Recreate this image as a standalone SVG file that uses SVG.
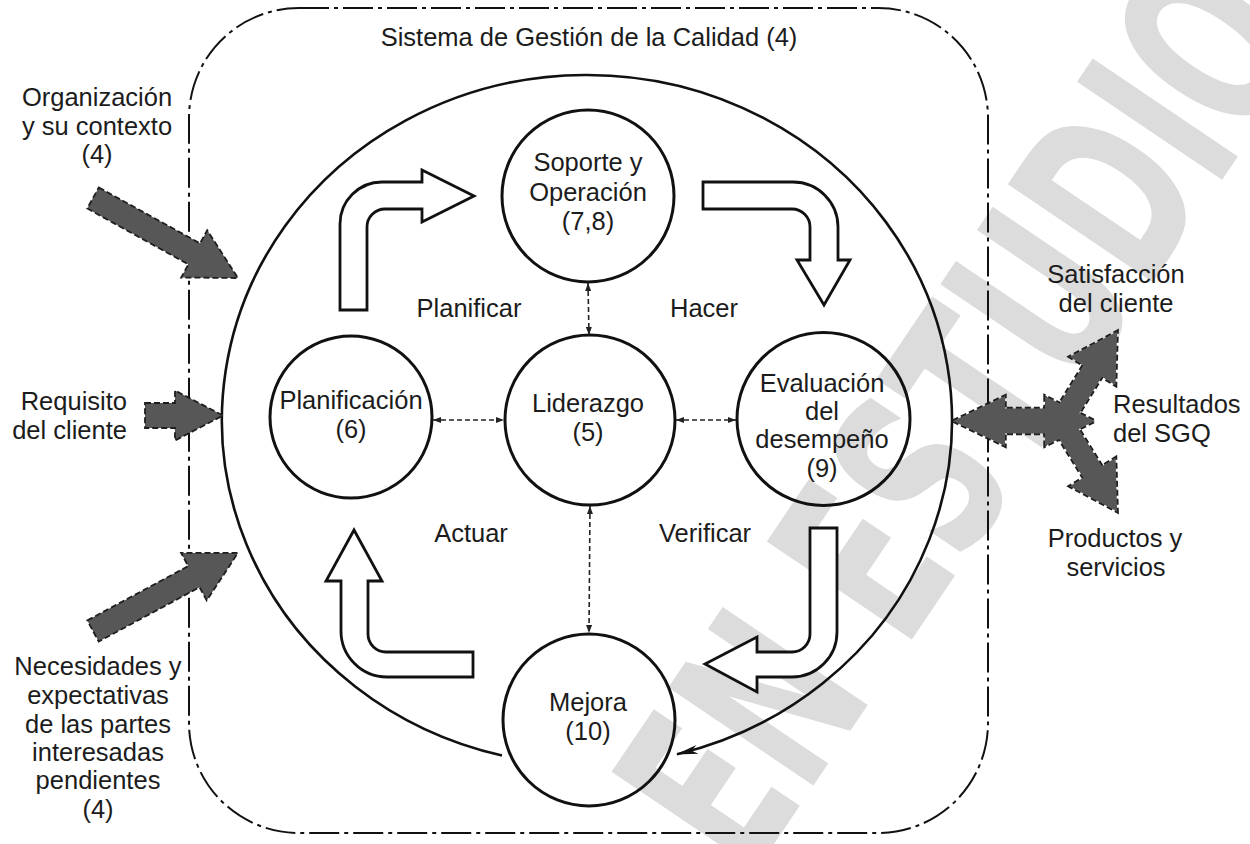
<svg xmlns="http://www.w3.org/2000/svg" width="1250" height="844" viewBox="0 0 1250 844">
  <style>
    text { font-family: "Liberation Sans", Arial, sans-serif; font-size: 25.5px; fill: #1c1c1c; }
    .c { text-anchor: middle; }
    .e { text-anchor: end; }
    .node { fill: none; stroke: #111; stroke-width: 3; }
    .flow { fill: #fff; stroke: #111; stroke-width: 2.8; stroke-linejoin: miter; }
    .link { fill: none; stroke: #222; stroke-width: 1.6; stroke-dasharray: 5 3; marker-start: url(#tip); marker-end: url(#tip); }
    .heavy { fill: #575757; stroke: #1e1e1e; stroke-width: 1.8; stroke-dasharray: 6 3; }
    .heavy-line { fill: none; stroke: #1e1e1e; stroke-width: 3.4; stroke-dasharray: 6 3; }
    .heavy-fill { fill: #575757; stroke: none; }
  </style>
  <defs>
    <marker id="tip" viewBox="0 0 8 6" refX="8" refY="3" markerWidth="8" markerHeight="6" markerUnits="userSpaceOnUse" orient="auto-start-reverse">
      <path d="M0,0 L8,3 L0,6 z" fill="#222"/>
    </marker>
    <marker id="cycle-head" viewBox="0 0 22 9" refX="21" refY="4.5" markerWidth="22" markerHeight="9" markerUnits="userSpaceOnUse" orient="auto">
      <path d="M0,0 L22,4.5 L0,9 L6,4.5 z" fill="#111"/>
    </marker>
    <!-- block arrows for the outputs on the right -->
    <polygon id="out-double" points="953,421 1005,396 1005,408.5 1045,408.5 1045,396 1095,421 1045,446 1045,433.5 1005,433.5 1005,446"/>
    <polygon id="out-up" transform="translate(1061,422) rotate(-58.2)" points="0,-11 60,-11 60,-27 106.5,0 60,27 60,11 0,11"/>
    <polygon id="out-down" transform="translate(1061,421) rotate(58.2)" points="0,-11 60,-11 60,-27 106.5,0 60,27 60,11 0,11"/>
  </defs>

  <rect width="1250" height="844" fill="#fff"/>

  <!-- diagonal stamp behind the drawing -->
  <text id="watermark" transform="translate(749,881) rotate(-56)" style="font-family:'DejaVu Sans',sans-serif;font-weight:bold;font-size:240px;fill:#dcdcdc" textLength="1014" lengthAdjust="spacingAndGlyphs">EN ESTUDIO</text>

  <!-- system boundary -->
  <g id="qms-boundary">
    <rect x="189" y="8" width="799" height="825" rx="110" ry="110" fill="none" stroke="#111" stroke-width="2" stroke-dasharray="30 5 4 5"/>
    <text class="c" x="589" y="46">Sistema de Gestión de la Calidad (4)</text>
  </g>

  <!-- PDCA cycle ring -->
  <g id="cycle-ring">
    <path d="M502,755.5 A365,345 0 1 1 677,754.3" fill="none" stroke="#111" stroke-width="2.6" marker-end="url(#cycle-head)"/>
  </g>

  <!-- hollow flow arrows -->
  <g id="flow-arrows">
    <path class="flow" d="M340,310 L340,224 A42,42 0 0 1 382,182 L422,182 L422,170 L474,196 L422,222 L422,209 L385,209 A18,18 0 0 0 367,227 L367,310 Z"/>
    <path class="flow" d="M703,182 L793,182 A45,45 0 0 1 838,227 L838,260 L850,260 L824,305 L797,260 L810,260 L810,227 A18,18 0 0 0 792,209 L703,209 Z"/>
    <path class="flow" d="M837,528 L837,632 A45,45 0 0 1 792,677 L757,677 L757,692 L705,664 L757,637 L757,652 L792,652 A18,18 0 0 0 810,634 L810,528 Z"/>
    <path class="flow" d="M473,652 L473,677 L387,677 A46,46 0 0 1 341,631 L341,581 L326,581 L354,530 L382,581 L368,581 L368,634 A18,18 0 0 0 386,652 Z"/>
  </g>

  <!-- nodes -->
  <g id="node-soporte">
    <circle class="node" cx="588" cy="196" r="86"/>
    <text class="c" x="588" y="171">Soporte y</text>
    <text class="c" x="588" y="201">Operación</text>
    <text class="c" x="588" y="230">(7,8)</text>
  </g>
  <g id="node-liderazgo">
    <circle class="node" cx="590" cy="420" r="85"/>
    <text class="c" x="588" y="412">Liderazgo</text>
    <text class="c" x="588" y="441">(5)</text>
  </g>
  <g id="node-planificacion">
    <circle class="node" cx="351" cy="417" r="81"/>
    <text class="c" x="351" y="409">Planificación</text>
    <text class="c" x="351" y="438">(6)</text>
  </g>
  <g id="node-evaluacion">
    <circle class="node" cx="823.5" cy="419" r="86.5"/>
    <text class="c" x="822" y="392">Evaluación</text>
    <text class="c" x="822" y="420">del</text>
    <text class="c" x="822" y="448">desempeño</text>
    <text class="c" x="822" y="477">(9)</text>
  </g>
  <g id="node-mejora">
    <circle class="node" cx="589" cy="720" r="86"/>
    <text class="c" x="588" y="711">Mejora</text>
    <text class="c" x="588" y="740">(10)</text>
  </g>

  <!-- leadership links -->
  <g id="connectors">
    <line class="link" x1="588" y1="283" x2="589" y2="335"/>
    <line class="link" x1="433" y1="420" x2="504" y2="420"/>
    <line class="link" x1="676" y1="420" x2="736" y2="420"/>
    <line class="link" x1="590" y1="506" x2="589" y2="633"/>
  </g>

  <!-- phase labels -->
  <g id="phase-labels">
    <text class="c" x="469" y="317">Planificar</text>
    <text class="c" x="704" y="317">Hacer</text>
    <text class="c" x="471" y="542">Actuar</text>
    <text class="c" x="705" y="542">Verificar</text>
  </g>

  <!-- inputs -->
  <g id="input-contexto">
    <polygon class="heavy" transform="translate(93,198) rotate(28.9)" points="0,-12 115.6,-12 115.6,-27 165.6,0 115.6,27 115.6,12 0,12"/>
    <text class="c" x="97" y="106">Organización</text>
    <text class="c" x="97" y="135">y su contexto</text>
    <text class="c" x="97" y="163">(4)</text>
  </g>
  <g id="input-requisito">
    <polygon class="heavy" transform="translate(145,415.5)" points="0,-12.5 30,-12.5 30,-25 78,0 30,25 30,12.5 0,12.5"/>
    <text class="e" x="127" y="410">Requisito</text>
    <text class="e" x="127" y="439">del cliente</text>
  </g>
  <g id="input-partes">
    <polygon class="heavy" transform="translate(93,631) rotate(-28.3)" points="0,-12 114.6,-12 114.6,-27 164.6,0 114.6,27 114.6,12 0,12"/>
    <text class="c" x="98" y="675">Necesidades y</text>
    <text class="c" x="98" y="704">expectativas</text>
    <text class="c" x="98" y="733">de las partes</text>
    <text class="c" x="98" y="761">interesadas</text>
    <text class="c" x="98" y="789">pendientes</text>
    <text class="c" x="98" y="818">(4)</text>
  </g>

  <!-- outputs -->
  <g id="output-resultados">
    <g class="heavy-line">
      <use href="#out-double"/>
      <use href="#out-up"/>
      <use href="#out-down"/>
    </g>
    <g class="heavy-fill">
      <use href="#out-double"/>
      <use href="#out-up"/>
      <use href="#out-down"/>
    </g>
    <text x="1113" y="413">Resultados</text>
    <text x="1113" y="442">del SGQ</text>
  </g>
  <g id="output-satisfaccion">
    <text class="c" x="1116" y="283">Satisfacción</text>
    <text class="c" x="1116" y="312">del cliente</text>
  </g>
  <g id="output-productos">
    <text class="c" x="1115" y="547">Productos y</text>
    <text class="c" x="1116" y="576">servicios</text>
  </g>
</svg>
